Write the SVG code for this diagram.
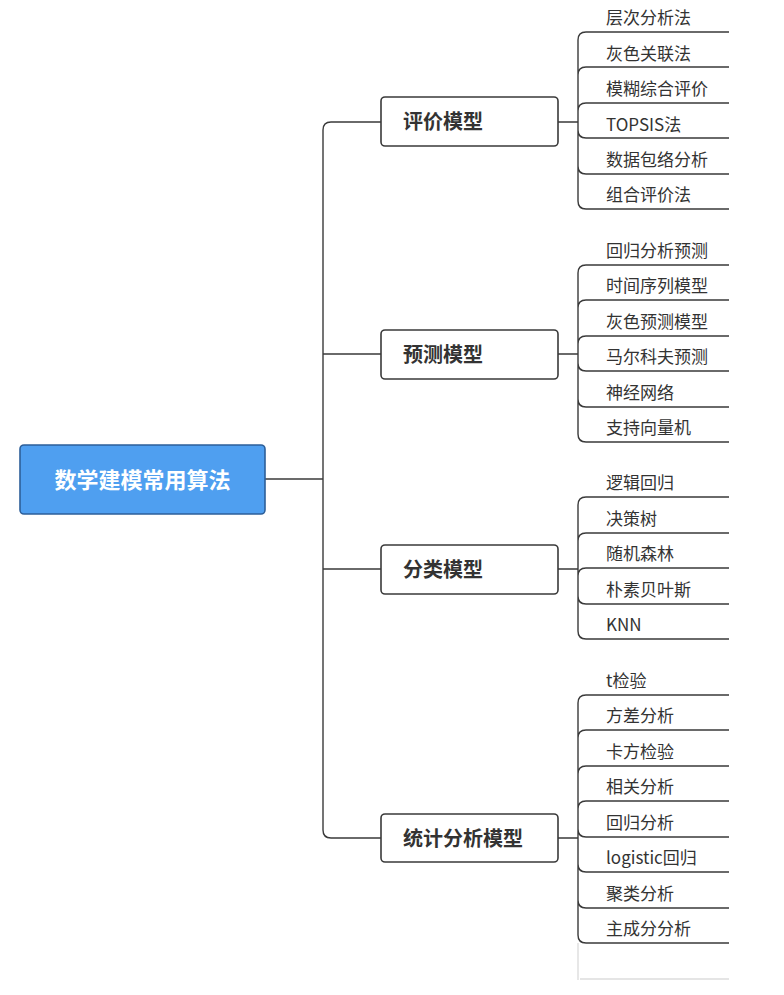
<svg xmlns="http://www.w3.org/2000/svg" width="784" height="995" viewBox="0 0 784 995">
<style>
.c{fill:none;stroke:#3a3a3a;stroke-width:1.4}
.m rect{fill:#fff;stroke:#3a3a3a;stroke-width:1.6}
.m text{font-family:"Noto Sans CJK SC","Noto Sans",sans-serif;font-size:20px;font-weight:bold;fill:#333}
.l text{font-family:"Noto Sans CJK SC","Noto Sans",sans-serif;font-size:17px;fill:#333}
</style>
<rect width="784" height="995" fill="#fff"/>
<g id="connectors" class="c">
<path d="M265 479H323"/>
<path d="M381 122H331Q323 122 323 130V830Q323 838 331 838H381"/>
<path d="M323 354H381M323 569H381"/>
<path d="M558 122H578M558 354H578M558 569H578M558 838H578"/>
<path d="M729 32H586Q578 32 578 40V201Q578 209 586 209H729M729 67H586Q578 67 578 75M729 103H586Q578 103 578 111M729 138H586Q578 138 578 130M729 174H586Q578 174 578 166"/>
<path d="M729 265H586Q578 265 578 273V434Q578 442 586 442H729M729 300H586Q578 300 578 308M729 336H586Q578 336 578 344M729 371H586Q578 371 578 363M729 407H586Q578 407 578 399"/>
<path d="M729 497H586Q578 497 578 505V631Q578 639 586 639H729M729 533H586Q578 533 578 541M729 568H586Q578 568 578 576M729 604H586Q578 604 578 596"/>
<path d="M729 695H586Q578 695 578 703V935Q578 943 586 943H729M729 730H586Q578 730 578 738M729 766H586Q578 766 578 774M729 801H586Q578 801 578 809M729 837H586Q578 837 578 829M729 872H586Q578 872 578 864M729 908H586Q578 908 578 900"/>
<path d="M578 943V980M580 979H729" stroke="#ddd"/>
</g>
<g id="root"><rect x="20" y="445" width="245" height="69" rx="4" fill="#4f9ff0" stroke="#2d5f99" stroke-width="1.6"/>
<text x="142.5" y="488" text-anchor="middle" font-family="'Noto Sans CJK SC',sans-serif" font-size="22" font-weight="bold" fill="#fff">数学建模常用算法</text></g>
<g id="m1" class="m"><rect x="381" y="97" width="177" height="49" rx="4"/><text x="403" y="129">评价模型</text></g>
<g id="m2" class="m"><rect x="381" y="330" width="177" height="49" rx="4"/><text x="403" y="362">预测模型</text></g>
<g id="m3" class="m"><rect x="381" y="545" width="177" height="49" rx="4"/><text x="403" y="577">分类模型</text></g>
<g id="m4" class="m"><rect x="381" y="814" width="177" height="48" rx="4"/><text x="403" y="846">统计分析模型</text></g>
<g id="leaves" class="l">
<text x="606" y="24">层次分析法</text><text x="606" y="60">灰色关联法</text><text x="606" y="95">模糊综合评价</text><text x="606" y="131">TOPSIS法</text><text x="606" y="166">数据包络分析</text><text x="606" y="201">组合评价法</text>
<text x="606" y="257">回归分析预测</text><text x="606" y="292">时间序列模型</text><text x="606" y="328">灰色预测模型</text><text x="606" y="363">马尔科夫预测</text><text x="606" y="399">神经网络</text><text x="606" y="434">支持向量机</text>
<text x="606" y="489">逻辑回归</text><text x="606" y="525">决策树</text><text x="606" y="560">随机森林</text><text x="606" y="596">朴素贝叶斯</text><text x="606" y="631">KNN</text>
<text x="606" y="687">t检验</text><text x="606" y="722">方差分析</text><text x="606" y="758">卡方检验</text><text x="606" y="793">相关分析</text><text x="606" y="829">回归分析</text><text x="606" y="864">logistic回归</text><text x="606" y="900">聚类分析</text><text x="606" y="935">主成分分析</text>
</g>
</svg>
